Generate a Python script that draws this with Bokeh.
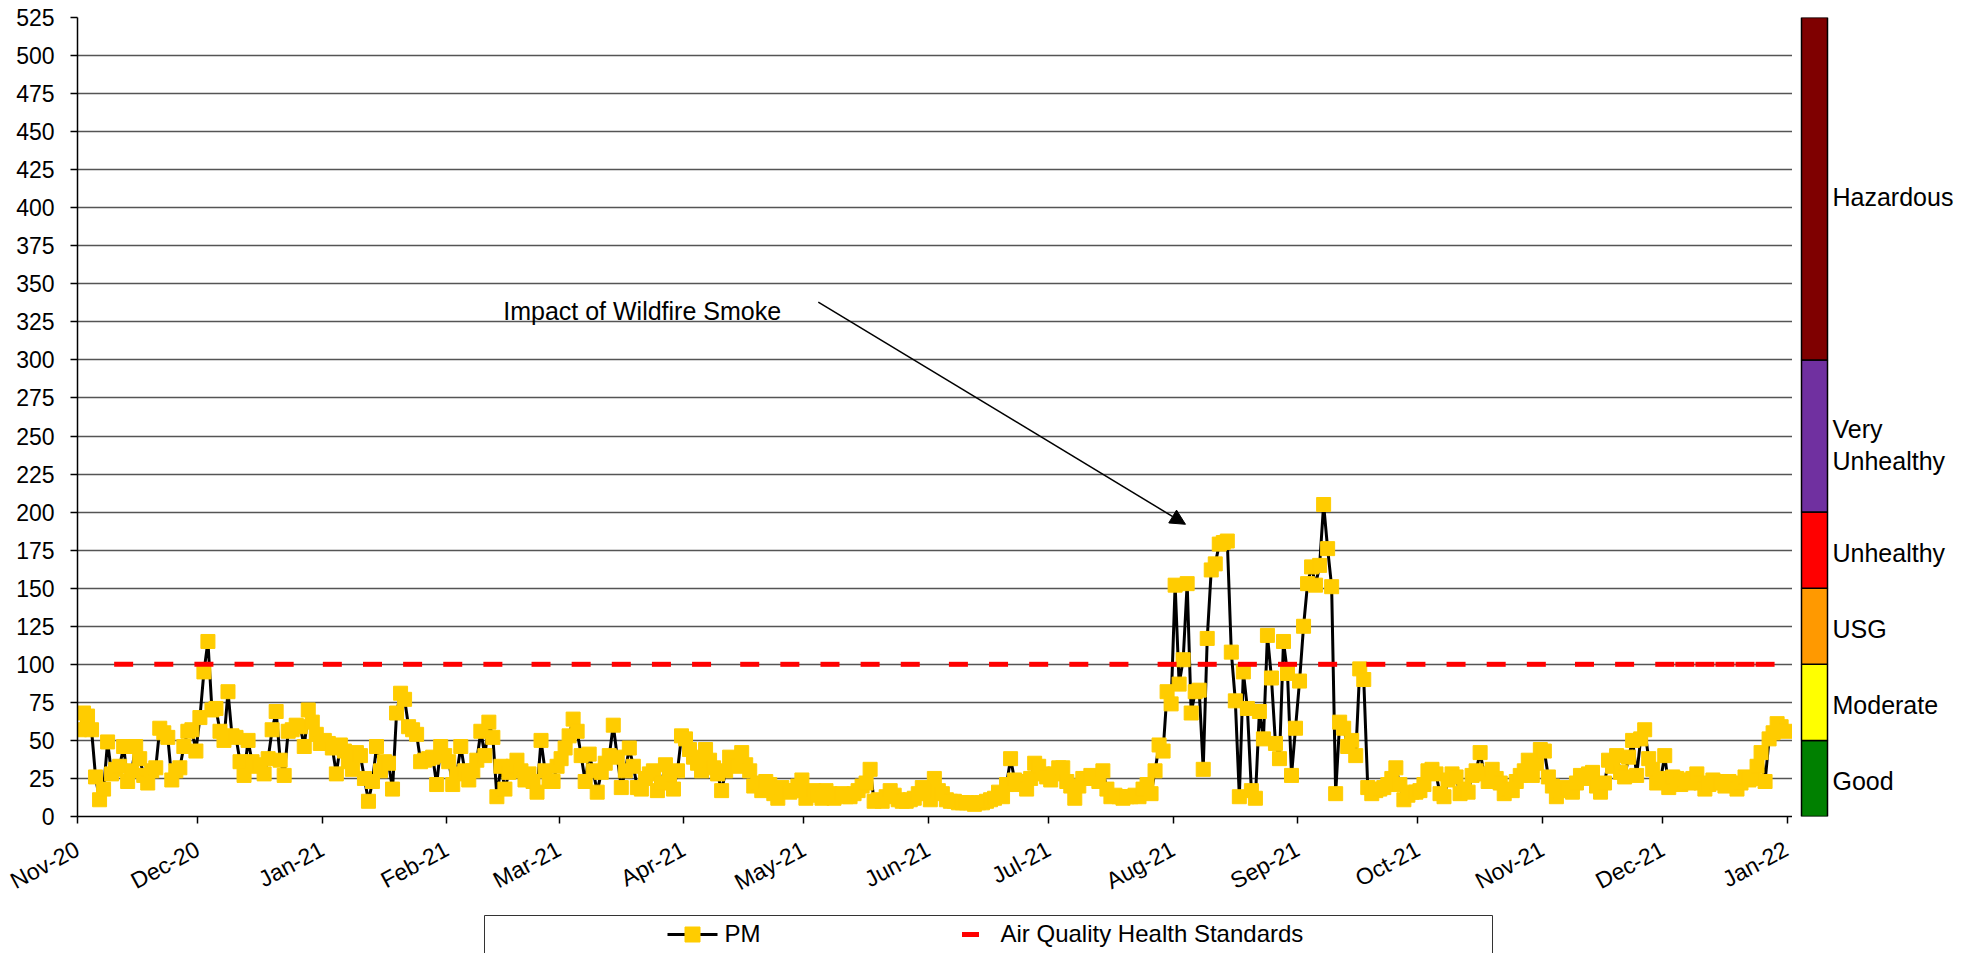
import pandas as pd
from bokeh.plotting import figure
from bokeh.layouts import column, row
from bokeh.models import (Range1d, FixedTicker, DatetimeTickFormatter, ColumnDataSource,
                          Arrow, NormalHead, Label)
from bokeh.embed import file_html
from bokeh.resources import INLINE
from bokeh.core.properties import value

# ---------------- data ----------------
START_DATE = "2020-11-01"
PM_2020_11 = [57, 68, 66, 57, 26, 11, 18, 49, 28, 31, 33, 46, 23, 30, 46, 38, 27, 22, 30, 32,
              58, 55, 52, 24, 30, 32, 46, 56, 57, 43]
PM_2020_12 = [65, 95, 115, 70, 71, 56, 50, 82, 53, 52, 36, 27, 50, 36, 33, 34, 28, 38, 57, 69,
              37, 27, 56, 57, 60, 59, 46, 70, 62, 54, 48]
PM_2021_01 = [50, 48, 45, 28, 47, 43, 36, 31, 42, 40, 25, 10, 23, 46, 30, 36, 35, 18, 68, 81,
              77, 59, 57, 54, 36, 37, 38, 39, 21, 46, 40]
PM_2021_02 = [36, 21, 28, 46, 30, 24, 30, 37, 56, 40, 62, 52, 13, 33, 18, 29, 33, 37, 30, 24,
              28, 23, 16, 50, 30, 23, 23, 33]
PM_2021_03 = [38, 45, 53, 64, 56, 40, 23, 41, 30, 16, 29, 35, 40, 60, 39, 19, 30, 45, 33, 19,
              18, 25, 28, 30, 17, 22, 34, 25, 18, 30, 53]
PM_2021_04 = [51, 44, 39, 35, 30, 44, 37, 32, 28, 17, 30, 39, 35, 33, 42, 34, 30, 20, 22, 17,
              23, 21, 15, 12, 19, 17, 16, 17, 20, 24]
PM_2021_05 = [12, 15, 17, 14, 12, 17, 15, 12, 14, 15, 13, 13, 15, 17, 20, 22, 31, 10, 11, 10,
              13, 17, 14, 11, 10, 10, 11, 12, 15, 19, 17]
PM_2021_06 = [11, 25, 17, 15, 11, 10, 10, 9, 9, 9, 9, 8, 9, 9, 10, 11, 12, 16, 13, 21,
              38, 24, 21, 23, 18, 25, 35, 33, 28, 26]
PM_2021_07 = [24, 28, 32, 32, 23, 20, 12, 20, 25, 25, 27, 25, 23, 30, 18, 13, 14, 13, 12, 13,
              13, 14, 13, 18, 21, 15, 30, 47, 43, 82, 74]
PM_2021_08 = [152, 87, 103, 153, 68, 82, 83, 31, 117, 162, 166, 179, 180, 181, 108, 76, 13, 95,
              71, 17, 12, 69, 51, 119, 91, 48, 38, 115, 94, 27, 58]
PM_2021_09 = [89, 125, 153, 164, 152, 165, 205, 176, 151, 15, 62, 58, 46, 50, 40, 97, 90, 19,
              15, 17, 18, 19, 21, 25, 32, 21, 11, 14, 16, 16]
PM_2021_10 = [17, 21, 30, 31, 28, 15, 13, 24, 28, 26, 15, 18, 16, 27, 30, 42, 28, 23, 31, 25,
              22, 15, 18, 17, 23, 27, 30, 37, 27, 35, 44]
PM_2021_11 = [43, 26, 20, 13, 17, 19, 18, 16, 22, 27, 25, 28, 29, 20, 16, 22, 37, 33, 40, 29,
              26, 39, 50, 27, 51, 57, 38, 31, 22, 25]
PM_2021_12 = [40, 19, 26, 25, 21, 24, 22, 25, 28, 22, 18, 21, 24, 23, 22, 20, 23, 21, 18, 22,
              26, 24, 25, 33, 42, 23, 51, 55, 61, 59, 56]

STANDARD_VALUE = 100
STANDARD_DATES = ["2020-11-12", "2020-11-22", "2020-12-02", "2020-12-12", "2020-12-22",
                  "2021-01-03", "2021-01-13", "2021-01-23", "2021-02-02", "2021-02-12",
                  "2021-02-24", "2021-03-06", "2021-03-16", "2021-03-26", "2021-04-05",
                  "2021-04-17", "2021-04-27", "2021-05-07", "2021-05-17", "2021-05-27",
                  "2021-06-08", "2021-06-18", "2021-06-28", "2021-07-08", "2021-07-18",
                  "2021-07-30", "2021-08-09", "2021-08-19", "2021-08-29", "2021-09-08",
                  "2021-09-20", "2021-09-30", "2021-10-10", "2021-10-20", "2021-10-30",
                  "2021-11-11", "2021-11-21", "2021-12-01", "2021-12-06", "2021-12-11",
                  "2021-12-16", "2021-12-21", "2021-12-26"]

MONTH_TICKS = ["2020-11-01", "2020-12-01", "2021-01-01", "2021-02-01", "2021-03-01",
               "2021-04-01", "2021-05-01", "2021-06-01", "2021-07-01", "2021-08-01",
               "2021-09-01", "2021-10-01", "2021-11-01", "2021-12-01", "2022-01-01"]
Y_TICKS = list(range(0, 526, 25))

AQI_LABELS = ["Good", "Moderate", "USG", "Unhealthy", "Very\nUnhealthy", "Hazardous"]
AQI_LOWER = [0, 50, 100, 150, 200, 300]
AQI_UPPER = [50, 100, 150, 200, 300, 525]
AQI_COLORS = ["#008000", "#FFFF00", "#FF9900", "#FF0000", "#7030A0", "#7F0000"]

ANNOTATION_TEXT = "Impact of Wildfire Smoke"
LEGEND_LABELS = ["PM", "Air Quality Health Standards"]

# ---------------- build ----------------
FONT = "Liberation Sans"
PM = (PM_2020_11 + PM_2020_12 + PM_2021_01 + PM_2021_02 + PM_2021_03 + PM_2021_04 +
      PM_2021_05 + PM_2021_06 + PM_2021_07 + PM_2021_08 + PM_2021_09 + PM_2021_10 +
      PM_2021_11 + PM_2021_12)
half_day = pd.Timedelta(hours=12)
pm_dates = pd.date_range(START_DATE, periods=len(PM), freq="D") + half_day
std_dates = pd.to_datetime(STANDARD_DATES) + half_day


def ms(ts):
    return pd.Timestamp(ts).value / 1e6


pm_src = ColumnDataSource(dict(x=pm_dates, y=PM))
std_src = ColumnDataSource(dict(x=std_dates, y=[STANDARD_VALUE] * len(std_dates)))

MAIN_H = 17 + 799 + 92

p = figure(frame_width=1715, frame_height=799, x_axis_type="datetime",
           x_range=Range1d(pd.Timestamp("2020-11-01"), pd.Timestamp("2022-01-02 08:00")),
           y_range=Range1d(0, 525), output_backend="svg", toolbar_location=None,
           min_border_left=77, min_border_right=0, min_border_top=17, min_border_bottom=92)
p.background_fill_color = "white"
p.outline_line_color = None

p.line("x", "y", source=pm_src, line_color="black", line_width=3)
p.scatter("x", "y", source=pm_src, marker="square", size=14,
          fill_color="#FFCC00", line_color="#FFCC00")
p.scatter("x", "y", source=std_src, marker="dash", size=19,
          line_color="#FF0000", line_width=5)

# axes
p.xaxis.ticker = FixedTicker(ticks=[ms(t) for t in MONTH_TICKS])
p.xaxis.formatter = DatetimeTickFormatter(days="%b-%y", months="%b-%y", years="%b-%y",
                                          hours="%b-%y", minutes="%b-%y")
p.xaxis.major_label_orientation = 0.49
p.yaxis.ticker = FixedTicker(ticks=Y_TICKS)
for ax in (p.xaxis[0], p.yaxis[0]):
    ax.major_label_text_font = FONT
    ax.major_label_text_font_size = "23px"
    ax.major_label_text_color = "black"
    ax.axis_line_color = "black"
    ax.axis_line_width = 1.5
    ax.major_tick_line_color = "black"
    ax.major_tick_line_width = 1.5
    ax.major_tick_out = 7
    ax.major_tick_in = 0
    ax.minor_tick_out = 0
    ax.minor_tick_in = 0
p.xaxis.major_label_standoff = 24
p.yaxis.major_label_standoff = 16
p.xgrid.grid_line_color = None
p.ygrid.grid_line_color = "#555555"
p.ygrid.grid_line_width = 1.5

# annotation
p.add_layout(Arrow(end=NormalHead(size=15, fill_color="black", line_color="black"),
                   x_start=ms("2021-05-04 14:00"), y_start=338,
                   x_end=ms("2021-08-04 02:00"), y_end=192,
                   line_color="black", line_width=1.5))
p.add_layout(Label(x=ms("2021-02-15 02:00"), y=332, text=ANNOTATION_TEXT,
                   text_font=FONT, text_font_size="25px", text_color="black",
                   text_baseline="alphabetic", text_align="left"))

# AQI colour scale
cb = figure(frame_width=175, frame_height=799, x_range=Range1d(1799, 1974), y_range=p.y_range,
            x_axis_location=None, y_axis_location=None, output_backend="svg",
            toolbar_location=None, min_border_left=7, min_border_right=0,
            min_border_top=17, min_border_bottom=92)
cb.outline_line_color = None
cb.grid.visible = False
label_at = [(a + b) / 2 for a, b in zip(AQI_LOWER, AQI_UPPER)]
label_at[-1] = AQI_LOWER[-1] + 0.485 * (AQI_UPPER[-1] - AQI_LOWER[-1])
label_at[-2] = AQI_LOWER[-2] + 0.46 * (AQI_UPPER[-2] - AQI_LOWER[-2])
aqi_src = ColumnDataSource(dict(bottom=AQI_LOWER, top=AQI_UPPER, color=AQI_COLORS,
                                label=AQI_LABELS, mid=label_at))
cb.quad(left=1801, right=1827, bottom="bottom", top="top", fill_color="color",
        line_color="black", line_width=1.5, source=aqi_src)
cb.text(x=1832, y="mid", text="label", source=aqi_src, text_font=value(FONT),
        text_font_size="25px", text_baseline="middle", text_align="left",
        text_color="black", text_line_height=1.15, y_offset=3)

# legend strip (page pixel coordinates)
LG_H = 44
lg = figure(width=1974, height=LG_H, x_range=Range1d(0, 1974),
            y_range=Range1d(MAIN_H + LG_H, MAIN_H),
            x_axis_location=None, y_axis_location=None, output_backend="svg",
            toolbar_location=None, min_border=0)
lg.outline_line_color = None
lg.grid.visible = False
lg.quad(left=484, right=1492, top=914, bottom=970, fill_color="white",
        line_color="#333333", line_width=1)
lg.line([667, 717], [933, 933], line_color="black", line_width=3)
lg.scatter([692], [933], marker="square", size=15, fill_color="#FFCC00", line_color="#FFCC00")
lg.scatter([970], [933], marker="dash", size=17, line_color="#FF0000", line_width=5)
lg.text(x=[724, 1000], y=[932, 932], text=LEGEND_LABELS, text_font=value(FONT),
        text_font_size="24px", text_baseline="middle", text_align="left",
        text_color="black")

layout = column(row(p, cb), lg)
open("out.html", "w").write(file_html(layout, INLINE))
